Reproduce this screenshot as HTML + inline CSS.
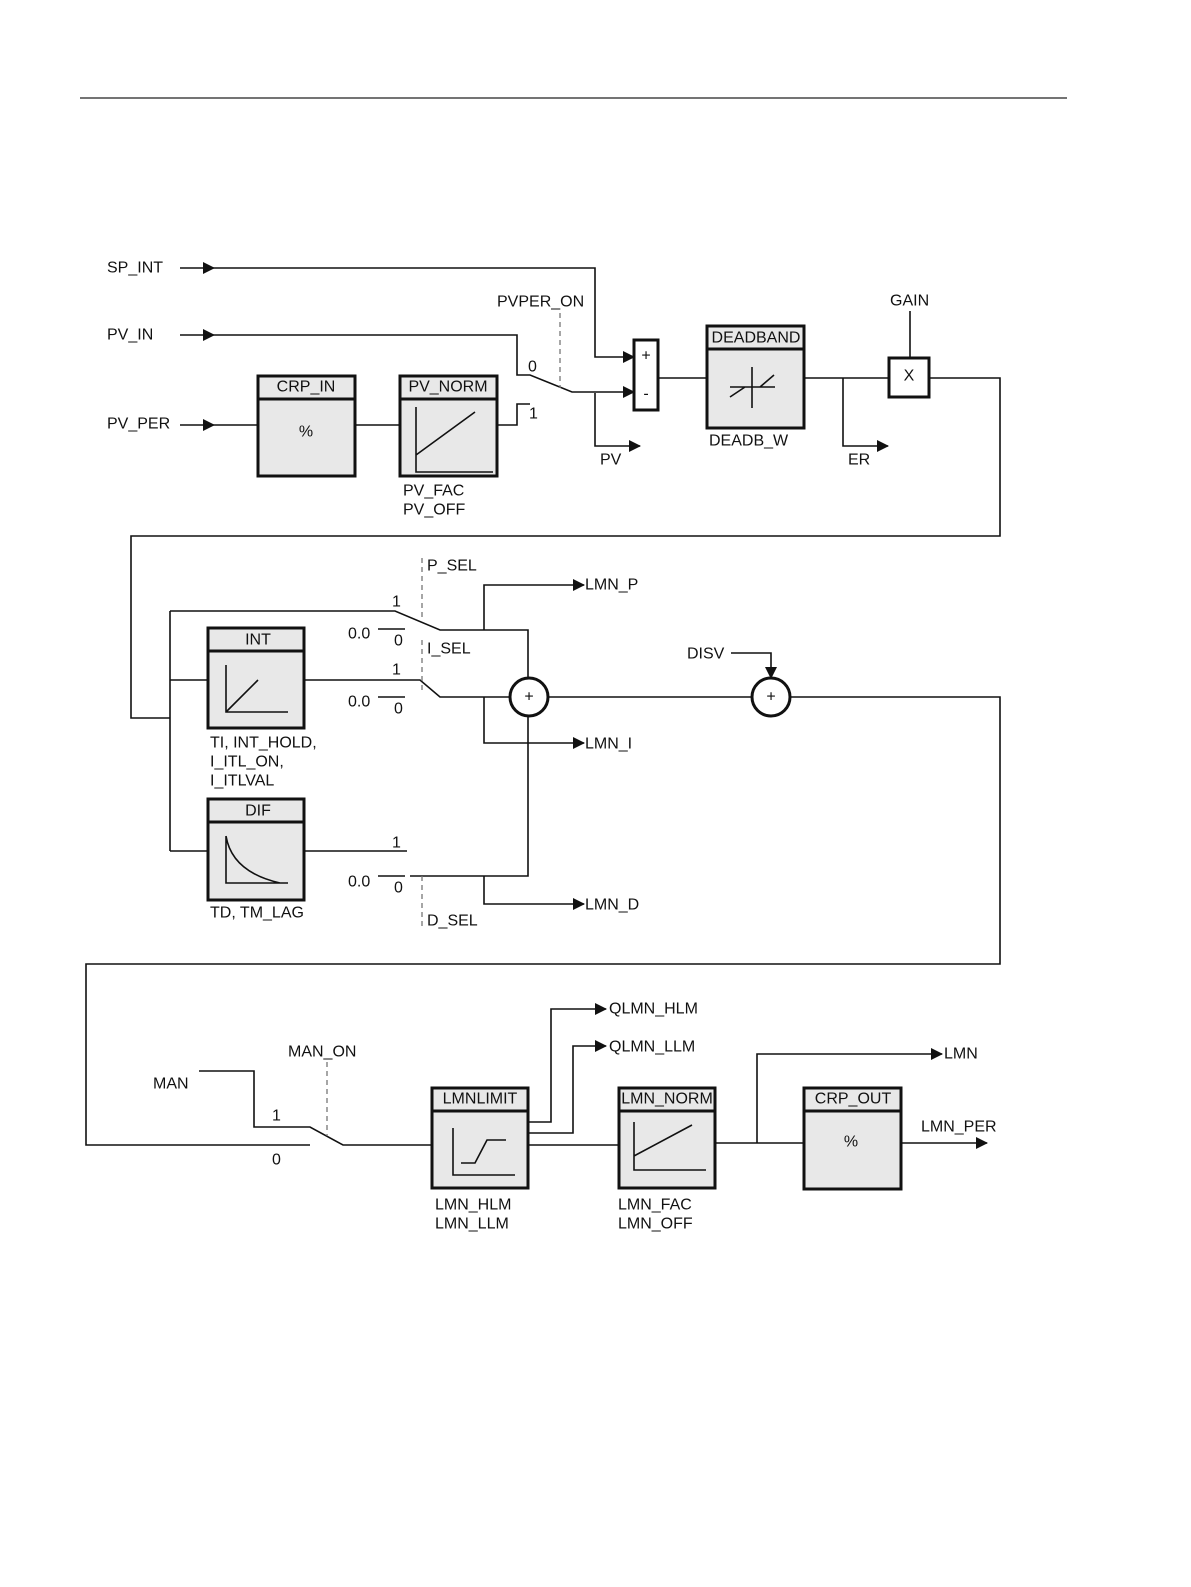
<!DOCTYPE html>
<html><head><meta charset="utf-8"><style>
html,body{margin:0;padding:0;background:#fff;overflow:hidden;width:1191px;height:1587px}
svg{display:block}
text{font-family:"Liberation Sans",sans-serif;font-size:16px;fill:#111;dominant-baseline:central}
.l{stroke:#111;stroke-width:1.6;fill:none}
.b{stroke:#111;stroke-width:3;fill:#e8e8e8}
.d{stroke:#777;stroke-width:1.3;stroke-dasharray:5,4;fill:none}
</style></head><body>
<svg width="1191" height="1587" viewBox="0 0 1191 1587">
<defs><marker id="a" markerWidth="12" markerHeight="12" refX="11" refY="6" orient="auto" markerUnits="userSpaceOnUse"><path d="M0,0 L12,6 L0,12Z" fill="#111"/></marker></defs>
<line x1="80" y1="98" x2="1067" y2="98" stroke="#222" stroke-width="1.2"/>

<!-- Row 1 -->
<text x="107" y="268">SP_INT</text>
<text x="107" y="335">PV_IN</text>
<text x="107" y="424">PV_PER</text>
<path class="l" d="M180 268H214" marker-end="url(#a)"/>
<path class="l" d="M214 268H595V357H634" marker-end="url(#a)"/>
<path class="l" d="M180 335H214" marker-end="url(#a)"/>
<path class="l" d="M214 335H517V375H530L572 392H634" marker-end="url(#a)"/>
<text x="528" y="367">0</text>
<text x="497" y="302">PVPER_ON</text>
<path class="d" d="M560 313V388"/>
<path class="l" d="M595 393V446H640" marker-end="url(#a)"/>
<text x="600" y="460">PV</text>
<path class="l" d="M180 425H214" marker-end="url(#a)"/>
<path class="l" d="M214 425H258M355 425H400M497 425H517V404H530"/>
<text x="529" y="414">1</text>
<rect class="b" x="258" y="376" width="97" height="100"/><line x1="258" y1="399" x2="355" y2="399" stroke="#111" stroke-width="3"/>
<text x="306" y="387" text-anchor="middle">CRP_IN</text><text x="306" y="432" text-anchor="middle">%</text>
<rect class="b" x="400" y="376" width="97" height="100"/><line x1="400" y1="399" x2="497" y2="399" stroke="#111" stroke-width="3"/>
<text x="448" y="387" text-anchor="middle">PV_NORM</text>
<path class="l" d="M416 407V472H493M416 455L475 412"/>
<text x="403" y="491">PV_FAC</text><text x="403" y="510">PV_OFF</text>
<rect x="634" y="340" width="24" height="70" fill="#fff" stroke="#111" stroke-width="3"/>
<text x="646" y="356" text-anchor="middle" font-size="12">+</text><text x="646" y="394" text-anchor="middle" font-size="12">-</text>
<path class="l" d="M658 378H707M804 378H889M929 378H1000V536H131V718H170"/>
<rect class="b" x="707" y="326" width="97" height="102"/><line x1="707" y1="349" x2="804" y2="349" stroke="#111" stroke-width="3"/>
<text x="756" y="338" text-anchor="middle">DEADBAND</text>
<path class="l" d="M752 367V408M730 387H775M730 397L745 387M760 387L774 375"/>
<text x="709" y="441">DEADB_W</text>
<path class="l" d="M843 378V446H888" marker-end="url(#a)"/>
<text x="848" y="460">ER</text>
<rect x="889" y="358" width="40" height="39" fill="#fff" stroke="#111" stroke-width="3"/>
<text x="909" y="376" text-anchor="middle">X</text>
<text x="890" y="301">GAIN</text>
<path class="l" d="M910 311V358"/>

<!-- Row 2 -->
<path class="l" d="M170 611V851M170 611H395L440 630H528V678M170 680H208M304 680H420L440 697H510M170 851H208M304 851H407M410 876H528V716"/>
<text x="392" y="602">1</text><text x="392" y="670">1</text><text x="392" y="843">1</text>
<text x="348" y="634">0.0</text><text x="394" y="641">0</text><path class="l" d="M378 629H405"/>
<text x="348" y="702">0.0</text><text x="394" y="709">0</text><path class="l" d="M378 697H405"/>
<text x="348" y="882">0.0</text><text x="394" y="888">0</text><path class="l" d="M378 876H405"/>
<path class="d" d="M422 558V620M422 640V690M422 876V926"/>
<text x="427" y="566">P_SEL</text><text x="427" y="649">I_SEL</text><text x="427" y="921">D_SEL</text>
<rect class="b" x="208" y="628" width="96" height="100"/><line x1="208" y1="651" x2="304" y2="651" stroke="#111" stroke-width="3"/>
<text x="258" y="640" text-anchor="middle">INT</text>
<path class="l" d="M226 665V712H288M226 712L258 680"/>
<text x="210" y="743">TI, INT_HOLD,</text><text x="210" y="762">I_ITL_ON,</text><text x="210" y="781">I_ITLVAL</text>
<rect class="b" x="208" y="799" width="96" height="101"/><line x1="208" y1="822" x2="304" y2="822" stroke="#111" stroke-width="3"/>
<text x="258" y="811" text-anchor="middle">DIF</text>
<path class="l" d="M226 836V883H288M226 836Q232 872 280 883"/>
<text x="210" y="913">TD, TM_LAG</text>
<path class="l" d="M484 630V585H584" marker-end="url(#a)"/><text x="585" y="585">LMN_P</text>
<path class="l" d="M484 697V743H584" marker-end="url(#a)"/><text x="585" y="744">LMN_I</text>
<path class="l" d="M484 876V904H584" marker-end="url(#a)"/><text x="585" y="905">LMN_D</text>
<circle cx="529" cy="697" r="19" fill="#fff" stroke="#111" stroke-width="3"/><text x="529" y="697" text-anchor="middle" font-size="12">+</text>
<path class="l" d="M548 697H752M790 697H1000V964H86V1145H310"/>
<circle cx="771" cy="697" r="19" fill="#fff" stroke="#111" stroke-width="3"/><text x="771" y="697" text-anchor="middle" font-size="12">+</text>
<text x="687" y="654">DISV</text>
<path class="l" d="M731 653H771V678" marker-end="url(#a)"/>

<!-- Row 3 -->
<text x="153" y="1084">MAN</text>
<path class="l" d="M199 1071H254V1127H310L343 1145H432"/>
<text x="272" y="1116">1</text><text x="272" y="1160">0</text>
<text x="288" y="1052">MAN_ON</text>
<path class="d" d="M327 1062V1136"/>
<rect class="b" x="432" y="1088" width="96" height="100"/><line x1="432" y1="1111" x2="528" y2="1111" stroke="#111" stroke-width="3"/>
<text x="480" y="1099" text-anchor="middle">LMNLIMIT</text>
<path class="l" d="M453 1128V1175H515M461 1163H475L487 1140H506"/>
<text x="435" y="1205">LMN_HLM</text><text x="435" y="1224">LMN_LLM</text>
<path class="l" d="M528 1122H551V1009H606" marker-end="url(#a)"/><text x="609" y="1009">QLMN_HLM</text>
<path class="l" d="M528 1133H573V1046H606" marker-end="url(#a)"/><text x="609" y="1047">QLMN_LLM</text>
<path class="l" d="M528 1145H619M715 1143H804"/>
<rect class="b" x="619" y="1088" width="96" height="100"/><line x1="619" y1="1111" x2="715" y2="1111" stroke="#111" stroke-width="3"/>
<text x="667" y="1099" text-anchor="middle">LMN_NORM</text>
<path class="l" d="M634 1122V1170H706M634 1156L692 1125"/>
<text x="618" y="1205">LMN_FAC</text><text x="618" y="1224">LMN_OFF</text>
<path class="l" d="M757 1143V1054H942" marker-end="url(#a)"/><text x="944" y="1054">LMN</text>
<rect class="b" x="804" y="1088" width="97" height="101"/><line x1="804" y1="1111" x2="901" y2="1111" stroke="#111" stroke-width="3"/>
<text x="853" y="1099" text-anchor="middle">CRP_OUT</text><text x="851" y="1142" text-anchor="middle">%</text>
<path class="l" d="M901 1143H987" marker-end="url(#a)"/><text x="921" y="1127">LMN_PER</text>
</svg>
</body></html>
